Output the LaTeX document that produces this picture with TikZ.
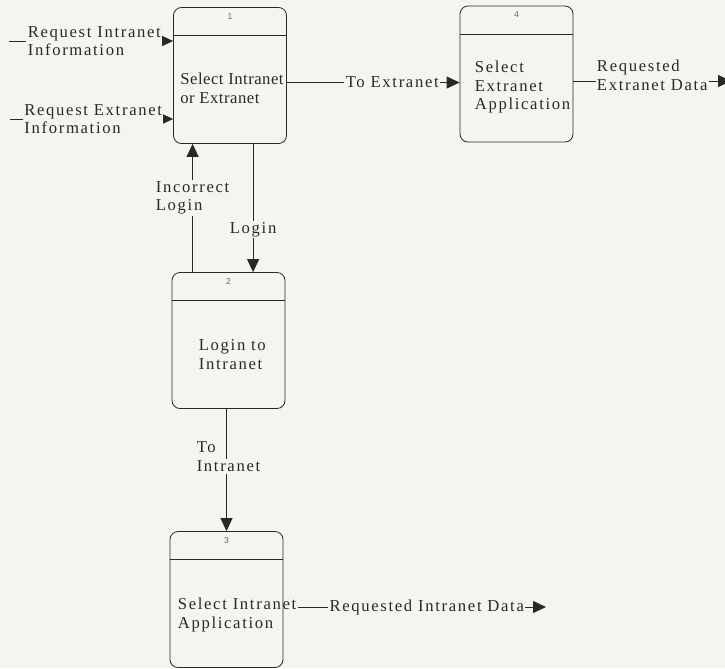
\documentclass[tikz,border=0pt]{standalone}
\usepackage{fontspec}
\setmainfont{Liberation Serif}[LetterSpace=10]
\newfontfamily\tightfont{Liberation Serif}[LetterSpace=3]
\newfontfamily\numfont{Liberation Sans}
\usetikzlibrary{arrows.meta,positioning,calc}

\definecolor{paper}{RGB}{245,245,240}
\definecolor{ink}{RGB}{40,40,40}
\newcommand\dfdsize{\fontsize{12.5}{14}\selectfont}
\newcommand\onflow[1]{{\setlength\fboxsep{1.5pt}\colorbox{paper}{#1}}}

\tikzset{
  proc/.style={draw=ink, line width=0.6pt, rounded corners=6pt,
    minimum width=84.75pt, minimum height=102pt, inner sep=0pt},
  procnum/.style={font=\numfont\fontsize{6.5}{7}\selectfont, text=ink!70, inner sep=0pt},
  proctext/.style={align=left, anchor=west, inner sep=0pt, text=ink},
  flow/.style={draw=ink, line width=0.6pt, -{Triangle[length=9.75pt,width=9pt]}},
  lbl/.style={fill=paper, inner sep=1pt, align=left, text=ink}
}

\begin{document}
\begin{tikzpicture}[x=0.75pt, y=-0.75pt, font=\dfdsize]

\fill[paper] (0,0) rectangle (725,668);
\useasboundingbox (0,0) rectangle (725,668);

% Processes
\node[proc] (p1) at (230,75.5) {};
\node[proc] (p4) at (516.5,74) {};
\node[proc] (p2) at (228.5,340.5) {};
\node[proc] (p3) at (226.5,599.5) {};

% Dividers and numbers
\foreach \p/\n in {p1/1,p2/2,p3/3,p4/4} {
  \draw[draw=ink, line width=0.6pt] ($(\p.north west)+(0,28.5)$) -- ($(\p.north east)+(0,28.5)$);
  \node[procnum] (\p-num) at ($(\p.north)+(0,9)$) {\n};
}

% Process texts
\node[proctext, font=\tightfont\dfdsize] (p1-txt) at ($(p1.west)+(7,13)$) {Select Intranet\\or Extranet};
\node[proctext] (p4-txt) at ($(p4.west)+(15,13)$) {Select\\Extranet\\Application};
\node[proctext] (p2-txt) at ($(p2.west)+(27,14)$) {Login to\\Intranet};
\node[proctext] (p3-txt) at ($(p3.west)+(8,15.5)$) {Select Intranet\\Application};

% Requests
\coordinate (in1) at (9,41);
\coordinate (in2) at (10,119);
\draw[flow] (in1) -- node[lbl, pos=0.52] (in1-lbl) {Request Intranet\\Information} (in1 -| p1.west);
\draw[flow] (in2) -- node[lbl, pos=0.51] (in2-lbl) {Request Extranet\\Information} (in2 -| p1.west);

% Login loop
\coordinate (bad) at ($(p2.north west)+(21,0)$);
\coordinate (ok) at ($(p1.south west)+(80,0)$);
\draw[flow] (bad) -- node[lbl, pos=0.58] (bad-lbl) {Incorrect\\Login} (bad |- p1.south);
\draw[flow] (ok) -- node[lbl, pos=0.67] (ok-lbl) {Login} (ok |- p2.north);

% To intranet
\draw[flow] (p3.north |- p2.south) -- node[pos=0.4, xshift=1.5pt, align=left, inner sep=0pt, text=ink] (to-lbl) {\hspace{1.5pt}To\\\onflow{Intranet}} (p3.north);

% To extranet
\coordinate (x1) at ($(p1.east)+(0,7)$);
\draw[flow] (x1) -- node[lbl, pos=0.61] (x1-lbl) {To Extranet} (x1 -| p4.west);

% Outputs
\coordinate (x4) at ($(p4.east)+(0,7)$);
\coordinate (x4-end) at (731,81);
\draw[flow] (x4) -- node[lbl, pos=0.5, yshift=4.5pt] (x4-lbl) {Requested\\Extranet Data} (x4 -| x4-end);

\coordinate (x3) at ($(p3-txt.east)+(1,-8)$);
\coordinate (x3-end) at (546,607);
\draw[flow] (x3) -- node[lbl, pos=0.52] (x3-lbl) {Requested Intranet Data} (x3 -| x3-end);

\end{tikzpicture}
\end{document}
